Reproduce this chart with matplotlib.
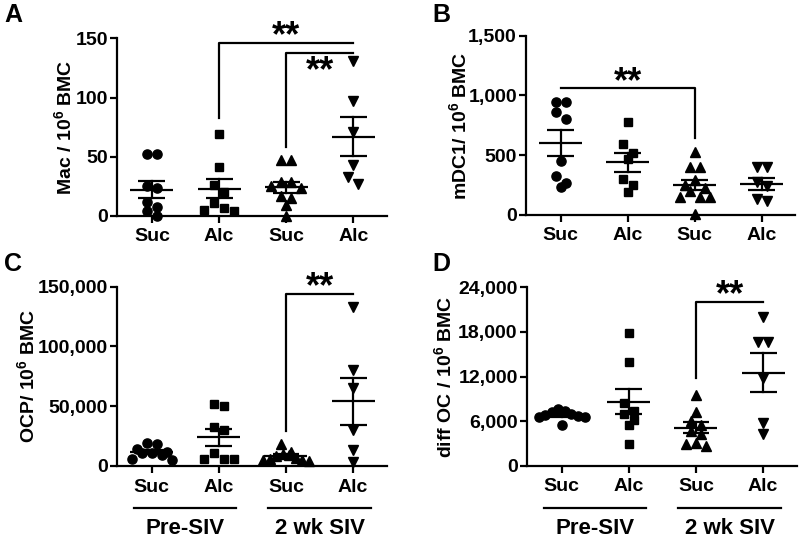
import numpy as np
import matplotlib
matplotlib.use('Agg')
import matplotlib.pyplot as plt
from matplotlib.ticker import FuncFormatter
from matplotlib.transforms import blended_transform_factory

plt.rcParams['font.family'] = ['Liberation Sans', 'DejaVu Sans']
plt.rcParams['font.weight'] = 'bold'
plt.rcParams['mathtext.fontset'] = 'custom'
plt.rcParams['mathtext.rm'] = 'Liberation Sans:bold'
plt.rcParams['mathtext.it'] = 'Liberation Sans:bold'
plt.rcParams['mathtext.bf'] = 'Liberation Sans:bold'
plt.rcParams['mathtext.default'] = 'rm'

# ---------------- data ----------------
group_labels = ['Suc', 'Alc', 'Suc', 'Alc']
period_labels = ['Pre-SIV', '2 wk SIV']

mac_suc_pre = [52, 52, 25, 24, 12, 8, 4, 0]
mac_alc_pre = [69, 41, 26, 20, 11, 7, 5, 4]
mac_suc_siv = [47, 47, 29, 29, 25, 24, 17, 15, 9, 0]
mac_alc_siv = [131, 97, 71, 43, 33, 27]

mdc_suc_pre = [945, 945, 860, 800, 450, 330, 270, 235]
mdc_alc_pre = [781, 590, 520, 470, 300, 250, 190]
mdc_suc_siv = [530, 400, 400, 290, 250, 230, 200, 150, 150, 150, 5]
mdc_alc_siv = [400, 400, 280, 240, 130, 115]

ocp_suc_pre = [19000, 18000, 14000, 12000, 11000, 11000, 9000, 6000, 5000]
ocp_alc_pre = [52000, 50000, 33000, 30000, 10500, 6000, 5500, 5500]
ocp_suc_siv = [18000, 12000, 10000, 9000, 8000, 7000, 6000, 5000, 5000, 4000]
ocp_alc_siv = [133000, 80000, 65000, 30000, 13000, 3000]

doc_suc_pre = [7600, 7400, 7200, 7000, 6800, 6700, 6600, 6500, 5500]
doc_alc_pre = [17800, 13900, 8400, 7300, 7000, 6100, 5500, 2900]
doc_suc_siv = [9500, 7200, 6000, 5500, 4700, 4300, 3000, 2700, 2900]
doc_alc_siv = [20000, 16700, 16700, 11800, 5800, 4200]

# significance brackets: (x_left, x_right, y_line, y_left_end, y_right_end, star_side)
brackets_A = [(2, 4, 146, 82.7, None, 'above'), (3, 4, 138, 58, None, 'below')]
brackets_B = [(1, 3, 1060, None, 642, 'above')]
brackets_C = [(3, 4, 144000, 29000, None, 'above')]
brackets_D = [(3, 4, 22000, 11800, None, 'above')]

ticks_A = [0, 50, 100, 150]
ticks_B = [0, 500, 1000, 1500]
ticks_C = [0, 50000, 100000, 150000]
ticks_D = [0, 6000, 12000, 18000, 24000]

# ---------------- figure ----------------
fig = plt.figure(figsize=(8.0, 5.41), dpi=100)
W, H = 800.0, 541.0

def rect(l, r, b, t):
    return [l / W, 1 - b / H, (r - l) / W, (b - t) / H]

axA = fig.add_axes(rect(117, 387, 216, 38.3))
axB = fig.add_axes(rect(526, 795, 215, 35.7))
axC = fig.add_axes(rect(116.7, 386.7, 466, 286.7))
axD = fig.add_axes(rect(526.7, 796.7, 465.7, 287.3))

markers = ['o', 's', '^', 'v']
msizes = [6.6, 6.0, 7.0, 7.0]
LW = 1.6
STAR_FS = 26


def swarm_offsets(ax, vals, dpx=8.5, maxw=46.0):
    vals = np.asarray(vals, dtype=float)
    bb = ax.get_window_extent()
    x0, x1 = ax.get_xlim()
    y0, y1 = ax.get_ylim()
    ppx = bb.width / (x1 - x0)
    ppy = bb.height / (y1 - y0)
    order = np.argsort(-vals, kind='stable')
    rows = []
    for i in order:
        if rows and (vals[rows[-1][0]] - vals[i]) * ppy < dpx:
            rows[-1].append(i)
        else:
            rows.append([i])
    offs = np.zeros(len(vals))
    for row in rows:
        n = len(row)
        step = dpx if n < 2 else min(dpx + 1.5, maxw / (n - 1))
        slots = [(k - (n - 1) / 2.0) for k in range(n)]
        # fill slots from the centre outwards, alternating sides
        slots.sort(key=lambda s: (abs(s), s))
        for s, i in zip(slots, row):
            offs[i] = s * step / ppx
    return offs


def panel(ax, groups, ylabel, yticks, brackets, label_x, fmt_comma=False, period=False):
    ax.set_xlim(0.48, 4.5)
    ax.set_ylim(yticks[0], yticks[-1])
    for s in ['top', 'right']:
        ax.spines[s].set_visible(False)
    for s in ['left', 'bottom']:
        ax.spines[s].set_linewidth(LW)
    ax.set_xticks([1, 2, 3, 4])
    ax.set_xticklabels(group_labels, fontsize=14, fontweight='bold')
    ax.set_yticks(yticks)
    if fmt_comma:
        ax.yaxis.set_major_formatter(FuncFormatter(lambda v, p: f'{int(v):,}'))
    ax.tick_params(axis='both', length=5, width=LW, labelsize=14)
    ax.tick_params(axis='y', pad=1.5)
    ax.tick_params(axis='x', pad=4)
    for t in ax.get_yticklabels() + ax.get_xticklabels():
        t.set_fontweight('bold')
    ax.set_ylabel(ylabel, fontsize=14, fontweight='bold')
    ax.yaxis.set_label_coords(label_x, 0.5)

    for gi, vals in enumerate(groups):
        pos = gi + 1
        v = np.asarray(vals, dtype=float)
        xs = pos + swarm_offsets(ax, v)
        ax.plot(xs, v, linestyle='none', marker=markers[gi], ms=msizes[gi],
                color='black', mec='black', clip_on=False, zorder=3)
        m = v.mean()
        sem = v.std(ddof=1) / np.sqrt(len(v))
        ax.plot([pos - 0.32, pos + 0.32], [m, m], color='black', lw=LW, zorder=4, solid_capstyle='butt')
        ax.plot([pos - 0.2, pos + 0.2], [m + sem, m + sem], color='black', lw=LW, zorder=4, solid_capstyle='butt')
        ax.plot([pos - 0.2, pos + 0.2], [m - sem, m - sem], color='black', lw=LW, zorder=4, solid_capstyle='butt')
        ax.plot([pos, pos], [m - sem, m + sem], color='black', lw=LW, zorder=4)

    for (xl, xr, yl, yle, yre, side) in brackets:
        xs = [xl, xr]
        ys = [yl, yl]
        if yle is not None:
            xs = [xl] + xs
            ys = [yle] + ys
        if yre is not None:
            xs = xs + [xr]
            ys = ys + [yre]
        ax.plot(xs, ys, color='black', lw=LW, clip_on=False, zorder=5)
        xm = (xl + xr) / 2.0
        dy = -2.5 if side == 'above' else -20.5
        ax.annotate('**', xy=(xm, yl), xytext=(0, dy), textcoords='offset points',
                    ha='center', va='baseline', fontsize=STAR_FS, fontweight='bold',
                    annotation_clip=False)

    if period:
        tr = blended_transform_factory(ax.transData, ax.transAxes)
        for k, lab in enumerate(period_labels):
            c = 1.5 + 2 * k
            ax.plot([c - 0.76, c + 0.76], [-0.236, -0.236], transform=tr, color='black',
                    lw=LW, clip_on=False)
            ax.text(c, -0.35, lab, transform=tr, ha='center', va='center', fontsize=16,
                    fontweight='bold')


panel(axA, [mac_suc_pre, mac_alc_pre, mac_suc_siv, mac_alc_siv],
      'Mac / 10$^6$ BMC', ticks_A, brackets_A, -0.156)
panel(axB, [mdc_suc_pre, mdc_alc_pre, mdc_suc_siv, mdc_alc_siv],
      'mDC1/ 10$^6$ BMC', ticks_B, brackets_B, -0.208, fmt_comma=True)
panel(axC, [ocp_suc_pre, ocp_alc_pre, ocp_suc_siv, ocp_alc_siv],
      'OCP/ 10$^6$ BMC', ticks_C, brackets_C, -0.291, fmt_comma=True, period=True)
panel(axD, [doc_suc_pre, doc_alc_pre, doc_suc_siv, doc_alc_siv],
      'diff OC / 10$^6$ BMC', ticks_D, brackets_D, -0.266, fmt_comma=True, period=True)

for lab, x, y in [('A', 4, 2.5), ('B', 432, 2.5), ('C', 4, 252), ('D', 432, 252)]:
    fig.text(x / W, 1 - y / H, lab, fontsize=18, fontweight='bold', va='top', ha='left')

fig.savefig('out.png', dpi=100, facecolor='white')
